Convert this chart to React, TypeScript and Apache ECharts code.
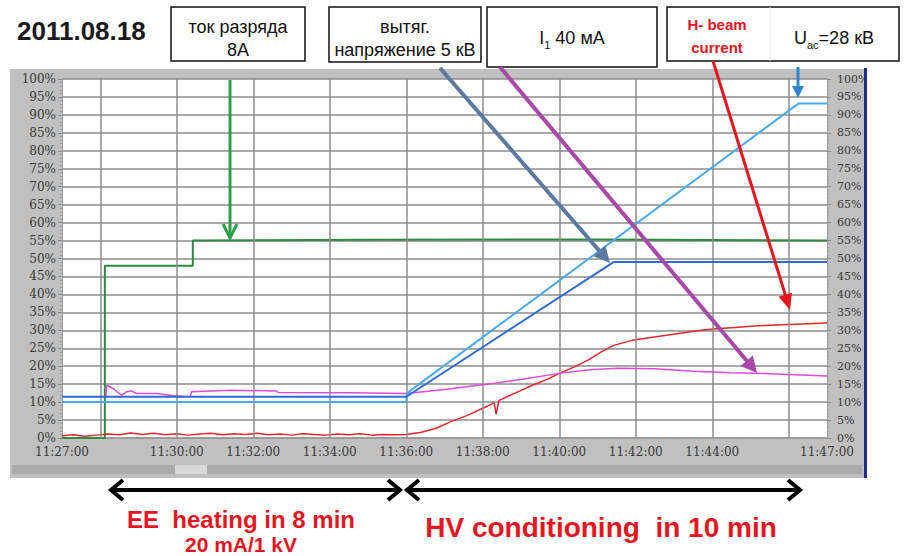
import React, { useEffect, useRef } from "react";
import * as echarts from "echarts";

// minutes after 11:27:00
const START_MIN = 11 * 60 + 27;
const xLabelMinutes = [0, 3, 5, 7, 9, 11, 13, 15, 17, 20];
const xGridMinutes = [1, 3, 5, 7, 9, 11, 13, 15, 17, 19];

// green: discharge current (ток разряда)
const dischargeCurrent = [
  [0, 0], [1.12, 0], [1.12, 48], [3.42, 48], [3.42, 55], [8, 55.2], [14, 55.3], [20, 55],
];
// dark blue: extraction voltage (вытяг. напряжение)
const extractionVoltage = [
  [0, 11.5], [9.0, 11.5], [14.42, 49], [20, 49],
];
// light blue: accelerating voltage U_ac
const accelVoltage = [
  [0, 10], [9.0, 10], [9.02, 12.5], [19.26, 93.2], [20, 93.2],
];
// magenta: I1
const i1Current = [
  [1.15, 11.5], [1.17, 14.7], [1.34, 13.8], [1.56, 11.9], [1.69, 12.9], [1.82, 13.1], [1.95, 12.4],
  [2.48, 12.4], [2.91, 11.8], [3.35, 11.5], [3.39, 12.9], [4.4, 13.3], [5.6, 13.1], [5.65, 12.7],
  [7.5, 12.6], [9.0, 12.4], [10, 13.5], [11, 14.8], [12, 16.3], [13, 18], [13.8, 19], [14.5, 19.4],
  [15.5, 19.3], [16.5, 18.6], [17.5, 18.2], [18.5, 17.9], [19.5, 17.5], [20, 17.3],
];
// red: H- beam current
const hBeamCurrent = [
  [0, 0.6], [0.3, 0.9], [0.6, 0.5], [0.9, 0.8], [1.2, 1.1], [1.5, 0.9], [1.8, 1.4], [2.1, 1.0],
  [2.4, 1.3], [2.7, 0.9], [3.0, 1.2], [3.3, 0.8], [3.6, 1.1], [3.9, 1.3], [4.2, 0.9], [4.5, 1.2],
  [4.8, 1.0], [5.1, 1.3], [5.4, 0.9], [5.7, 1.1], [6.0, 0.8], [6.3, 1.2], [6.6, 1.0], [6.9, 0.8],
  [7.2, 1.1], [7.5, 0.9], [7.8, 1.2], [8.1, 0.8], [8.4, 1.0], [8.7, 0.9], [9.0, 1.0],
  [9.4, 1.6], [9.8, 2.8], [10.15, 4.5], [10.6, 6.3], [11.0, 8.3], [11.3, 9.8], [11.35, 6.6],
  [11.42, 10.4], [11.8, 12.3], [12.3, 14.7], [12.7, 16.4], [13.0, 18], [13.4, 19.8], [13.75, 21.7],
  [14.1, 24], [14.42, 25.8], [14.9, 27.2], [15.4, 28], [15.8, 28.6], [16.3, 29.4], [16.7, 30],
  [17.1, 30.4], [17.6, 30.8], [18.0, 31.1], [18.5, 31.4], [19.0, 31.6], [19.5, 31.8], [20, 32],
];

const yTicks = { min: 0, max: 100, interval: 5 };

function fmtTime(v: number) {
  const total = Math.round((START_MIN + v) * 60);
  const h = Math.floor(total / 3600);
  const m = Math.floor((total % 3600) / 60);
  const s = total % 60;
  return `${h}:${String(m).padStart(2, "0")}:${String(s).padStart(2, "0")}`;
}

function arrow(
  x1: number, y1: number, x2: number, y2: number, color: string,
  width: number, head = 13, spread = 6, filled = false
): any[] {
  const dx = x2 - x1, dy = y2 - y1;
  const L = Math.hypot(dx, dy);
  const ux = dx / L, uy = dy / L;
  const bx = x2 - ux * head, by = y2 - uy * head;
  const px = -uy * spread, py = ux * spread;
  const els: any[] = [
    {
      type: "line", silent: true, z: 100,
      shape: { x1, y1, x2: filled ? bx + ux * 2 : x2, y2: filled ? by + uy * 2 : y2 },
      style: { stroke: color, lineWidth: width },
    },
  ];
  if (filled) {
    els.push({
      type: "polygon", silent: true, z: 100,
      shape: { points: [[x2, y2], [bx + px, by + py], [bx - px, by - py]] },
      style: { fill: color },
    });
  } else {
    els.push({
      type: "polyline", silent: true, z: 100,
      shape: { points: [[bx + px, by + py], [x2, y2], [bx - px, by - py]] },
      style: { stroke: color, lineWidth: width, lineJoin: "miter" },
    });
  }
  return els;
}

function doubleArrow(x1: number, x2: number, y: number): any[] {
  const st = { stroke: "#000", lineWidth: 4, lineJoin: "miter" };
  return [
    { type: "line", silent: true, z: 100, shape: { x1, y1: y, x2, y2: y }, style: st },
    { type: "polyline", silent: true, z: 100, shape: { points: [[x1 + 12, y - 10], [x1, y], [x1 + 12, y + 10]] }, style: st },
    { type: "polyline", silent: true, z: 100, shape: { points: [[x2 - 12, y - 10], [x2, y], [x2 - 12, y + 10]] }, style: st },
  ];
}

function box(x: number, y: number, w: number, h: number): any {
  return {
    type: "rect", silent: true, z: 100,
    shape: { x, y, width: w, height: h },
    style: { fill: "#fff", stroke: "#111", lineWidth: 1.5 },
  };
}

function label(text: string, x: number, y: number, font: string, fill = "#111", rich?: any): any {
  return {
    type: "text", silent: true, z: 101, x, y,
    style: { text, font, fill, align: "center", verticalAlign: "middle", rich },
  };
}

const SANS = '"Liberation Sans", Arial, sans-serif';
const SERIF = '"DejaVu Serif", "Liberation Serif", serif';

export default function App() {
  const ref = useRef<HTMLDivElement>(null);

  useEffect(() => {
    if (!ref.current) return;
    const chart = echarts.init(ref.current, undefined, { renderer: "svg" });

    const lineSeries = (name: string, data: number[][], color: string, width: number, z: number) => ({
      name, type: "line", data, showSymbol: false, symbol: "none", z,
      lineStyle: { color, width }, itemStyle: { color }, silent: true,
    });

    const subRich = (size: number) => ({
      a: { fontSize: size, fontFamily: SANS, lineHeight: size + 6, fill: "#111" },
      s: { fontSize: 11, fontFamily: SANS, lineHeight: 9, verticalAlign: "bottom", fill: "#111" },
    });

    const red = "#e8141e";

    const graphics: any[] = [
      // instrument panel
      { type: "rect", silent: true, z: -10, shape: { x: 10, y: 69, width: 856, height: 409 }, style: { fill: "#c0c0c0" } },
      { type: "rect", silent: true, z: 5, shape: { x: 12, y: 465, width: 850, height: 9 }, style: { fill: "#aaaaaa" } },
      { type: "rect", silent: true, z: 6, shape: { x: 175, y: 465, width: 32, height: 9 }, style: { fill: "#d9d9d9" } },
      { type: "rect", silent: true, z: 50, shape: { x: 867, y: 66, width: 40, height: 416 }, style: { fill: "#ffffff" } },
      { type: "rect", silent: true, z: 51, shape: { x: 864, y: 68, width: 3, height: 410 }, style: { fill: "#1c2a96" } },
      // date
      { type: "text", silent: true, z: 101, x: 17, y: 31, style: { text: "2011.08.18", font: `bold 26px ${SANS}`, fill: "#1a1a1a", align: "left", verticalAlign: "middle" } },
      // boxes
      box(171, 7, 134, 54),
      label("ток разряда", 238, 27, `18px ${SANS}`),
      label("8А", 238, 50, `18px ${SANS}`),
      box(329, 7, 152, 55),
      label("вытяг.", 405, 27, `18px ${SANS}`),
      label("напряжение 5 кВ", 405, 50, `18px ${SANS}`),
      box(487, 7, 170, 60),
      label("{a|I}{s|1}{a| 40 мА}", 572, 38, `18px ${SANS}`, "#111", subRich(18)),
      box(667, 7, 232, 54),
      { type: "line", silent: true, z: 101, shape: { x1: 770, y1: 7, x2: 770, y2: 61 }, style: { stroke: "#e6e6e6", lineWidth: 1 } },
      label("H- beam", 717, 24, `bold 15px ${SANS}`, red),
      label("current", 717, 47, `bold 15px ${SANS}`, red),
      label("{a|U}{s|ac}{a|=28 кВ}", 834, 38, `18px ${SANS}`, "#111", subRich(18)),
      // pointer arrows
      ...arrow(230, 80, 230, 238, "#2aa048", 3, 14, 7),
      ...arrow(440, 68, 610, 263, "#5b7aa2", 4, 16, 8, true),
      ...arrow(500, 67, 757, 373, "#a948a9", 4, 16, 8, true),
      ...arrow(713, 61, 790, 310, red, 3, 16, 7, true),
      ...arrow(798, 67, 798, 98, "#2f86d0", 3, 12, 6, true),
      // period arrows
      ...doubleArrow(111, 400, 490),
      ...doubleArrow(407, 800, 490),
      // period captions
      label("EE  heating in 8 min", 241, 519, `bold 24px ${SANS}`, red),
      label("20 mA/1 kV", 241, 544, `bold 21px ${SANS}`, red),
      label("HV conditioning  in 10 min", 601, 527, `bold 28px ${SANS}`, red),
    ];

    const yAxisCommon = {
      type: "value", min: yTicks.min, max: yTicks.max, interval: yTicks.interval,
      axisLine: { show: true, lineStyle: { color: "#9a9a9a", width: 1 } },
      axisTick: { show: true, length: 4, lineStyle: { color: "#8a8a8a" } },
      minorTick: { show: true, splitNumber: 5, length: 2, lineStyle: { color: "#a0a0a0" } },
      axisLabel: {
        formatter: "{value}%", fontFamily: SERIF, fontSize: 12, color: "#3a3a3a", margin: 6,
      },
    };

    chart.setOption({
      animation: false,
      backgroundColor: "#ffffff",
      grid: {
        left: 62, right: 80, top: 79, bottom: 118, show: true,
        backgroundColor: "#ffffff", borderWidth: 0,
      },
      xAxis: {
        type: "value", min: 0, max: 20,
        axisLine: { show: true, lineStyle: { color: "#9a9a9a", type: [2, 3], width: 2 } },
        axisTick: { show: false },
        splitLine: { show: false },
        axisLabel: {
          customValues: xLabelMinutes,
          formatter: (v: number) => fmtTime(v),
          fontFamily: SERIF, fontSize: 12, color: "#3a3a3a", margin: 8,
        },
      },
      yAxis: [
        {
          ...yAxisCommon, position: "left",
          splitLine: { show: true, lineStyle: { color: "#8c8c8c", width: 1.5 } },
        },
        {
          ...yAxisCommon, position: "right",
          splitLine: { show: false },
          axisLabel: { ...yAxisCommon.axisLabel, fontSize: 11, margin: 10 },
        },
      ],
      graphic: { elements: graphics },
      series: [
        {
          name: "grid", type: "line", data: [], silent: true, z: 1,
          markLine: {
            silent: true, symbol: "none", animation: false,
            label: { show: false },
            lineStyle: { color: "#8c8c8c", width: 1.5, type: "solid" },
            data: xGridMinutes.map((m) => ({ xAxis: m })),
          },
        },
        lineSeries("ток разряда", dischargeCurrent, "#2d8a3e", 2, 3),
        lineSeries("H- beam current", hBeamCurrent, "#e3262a", 1.5, 4),
        lineSeries("I1", i1Current, "#dd4ad8", 1.5, 5),
        lineSeries("Uac", accelVoltage, "#4aaaf0", 2, 6),
        lineSeries("вытяг. напряжение", extractionVoltage, "#2f6ad6", 2, 7),
      ],
    });

    return () => chart.dispose();
  }, []);

  return (
    <div
      ref={ref}
      style={{ position: "absolute", left: 0, top: 0, width: 907, height: 556 }}
    />
  );
}
